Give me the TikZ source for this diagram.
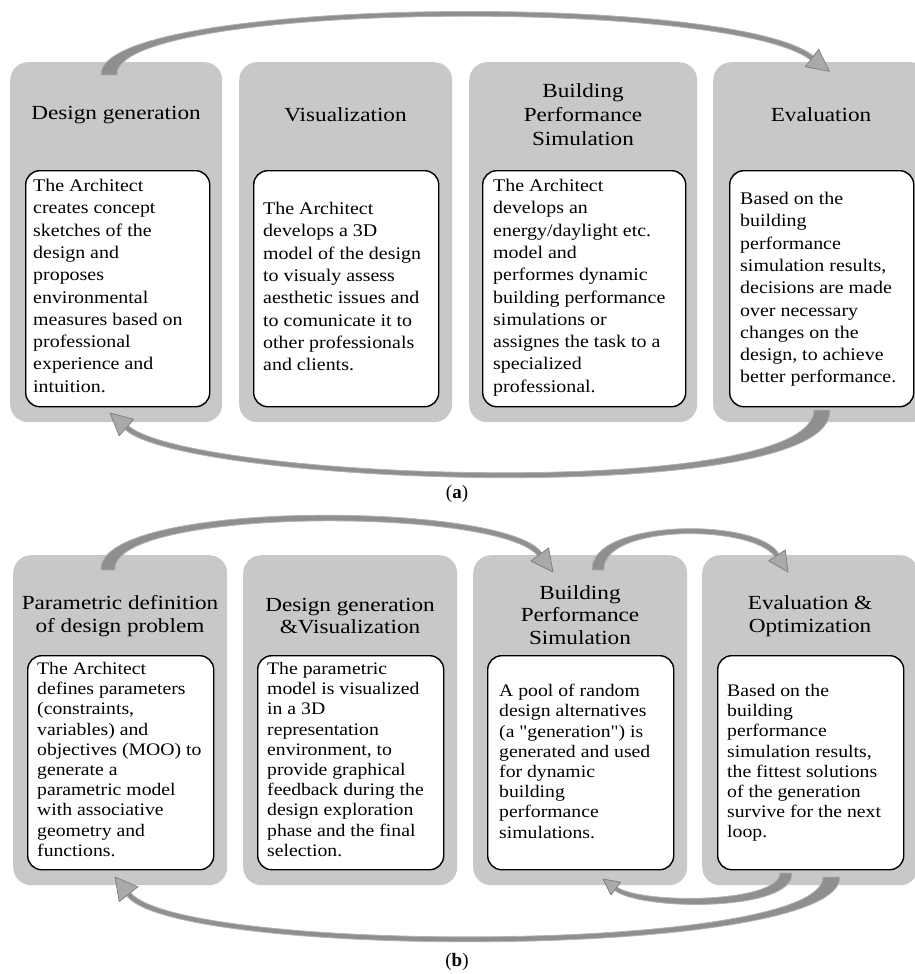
\documentclass[tikz,border=0pt]{standalone}
\usepackage{fontspec}
\setmainfont{Liberation Serif}
\newfontfamily\wfont{Liberation Serif}[FakeStretch=1.16]
\newfontfamily\bfont{Liberation Serif}[FakeStretch=1.12]
\definecolor{boxgray}{HTML}{C8C8C8}
\definecolor{arrowgray}{HTML}{8F8F8F}
\definecolor{arrowedge}{HTML}{B2B2B2}
\definecolor{headgray}{HTML}{A9A9A9}
\definecolor{headedge}{HTML}{7C7C7C}
\tikzset{
  graybox/.style={fill=boxgray, rounded corners=18pt, anchor=north west, inner sep=0pt},
  whitebox/.style={draw=black, line width=1.4pt, fill=white, rounded corners=14pt, anchor=north west, inner sep=0pt},
  ttl/.style={font=\wfont\fontsize{20}{24}\selectfont, align=center, inner sep=0pt},
  ttlb/.style={font=\wfont\fontsize{20}{22.5}\selectfont, align=center, inner sep=0pt},
  bodya/.style={font=\bfont\fontsize{17.8}{22.3}\selectfont, align=left, anchor=north west, inner sep=0pt},
  bodyb/.style={font=\bfont\fontsize{17.6}{20.2}\selectfont, align=left, anchor=north west, inner sep=0pt},
  blockarrow/.style={fill=arrowgray, draw=arrowedge, line width=0.8pt, line join=round},
  arrowhead/.style={fill=headgray, draw=headedge, line width=0.7pt, line join=round},
  lbl/.style={font=\fontsize{19}{21}\selectfont, inner sep=0pt}
}
\begin{document}
\begin{tikzpicture}[x=1pt,y=-1pt]
\useasboundingbox (0,0) rectangle (915,974);
% ---------- (a) gray boxes
\node[graybox, minimum width=212pt, minimum height=360pt] (ga1) at (10,62) {};
\node[graybox, minimum width=213pt, minimum height=360pt] (ga2) at (239,62) {};
\node[graybox, minimum width=228pt, minimum height=360pt] (ga3) at (469,62) {};
\node[graybox, minimum width=216pt, minimum height=360pt] (ga4) at (713,62) {};
% ---------- (a) arrows
\filldraw[blockarrow] (101,75) .. controls (97,-3) and (732,-9) .. (813.5,56) -- (810.5,60) .. controls (728,-3) and (113,2) .. (117,75) -- cycle;
\filldraw[arrowhead] (818.7,49.3) -- (829.4,71.4) -- (805.3,66.7) -- cycle;
\filldraw[blockarrow] (830,410) .. controls (834,509) and (184,485) .. (124.9,429.4) -- (128.2,425.6) .. controls (190,480) and (812,502) .. (814,410) -- cycle;
\filldraw[arrowhead] (119.2,435.8) -- (110,413) -- (133.8,419.3) -- cycle;
% ---------- (a) titles
\node[ttl] (ta1) at (116,115) {Design generation};
\node[ttl] (ta2) at (345.5,115) {Visualization};
\node[ttl] (ta3) at (583,115) {Building\\Performance\\Simulation};
\node[ttl] (ta4) at (821,115) {Evaluation};
% ---------- (a) white boxes
\node[whitebox, minimum width=184pt, minimum height=236pt] (wa1) at (25,170) {};
\node[whitebox, minimum width=185pt, minimum height=236pt] (wa2) at (253,170) {};
\node[whitebox, minimum width=203pt, minimum height=236pt] (wa3) at (482,170) {};
\node[whitebox, minimum width=184pt, minimum height=236pt] (wa4) at (729,170) {};
\node[bodya] (xa1) at (33,179) {The Architect\\creates concept\\sketches of the\\design and\\proposes\\environmental\\measures based on\\professional\\experience and\\intuition.};
\node[bodya] (xa2) at (263,202) {The Architect\\develops a 3D\\model of the design\\to visualy assess\\aesthetic issues and\\to comunicate it to\\other professionals\\and clients.};
\node[bodya] (xa3) at (493,179) {The Architect\\develops an\\energy/daylight etc.\\model and\\performes dynamic\\building performance\\simulations or\\assignes the task to a\\specialized\\professional.};
\node[bodya] (xa4) at (740,192) {Based on the\\building\\performance\\simulation results,\\decisions are made\\over necessary\\changes on the\\design, to achieve\\better performance.};
\node[lbl] (la) at (457,494) {(\textbf{a})};
% ---------- (b) gray boxes
\node[graybox, minimum width=214pt, minimum height=330pt] (gb1) at (13,555) {};
\node[graybox, minimum width=214pt, minimum height=330pt] (gb2) at (243,555) {};
\node[graybox, minimum width=214pt, minimum height=330pt] (gb3) at (473,555) {};
\node[graybox, minimum width=216pt, minimum height=330pt] (gb4) at (702,555) {};
% ---------- (b) arrows
\filldraw[blockarrow] (101,570) .. controls (97,499) and (507,501) .. (541.8,552.9) -- (537.8,555.9) .. controls (500,507) and (111,507) .. (115,570) -- cycle;
\filldraw[arrowhead] (548.6,547.8) -- (553,572) -- (531,561) -- cycle;
\filldraw[blockarrow] (592,570) .. controls (590,519) and (758,517) .. (779,554) -- (775,556.8) .. controls (752,524) and (602,524) .. (604,570) -- cycle;
\filldraw[arrowhead] (785.3,549.9) -- (788,572) -- (768.7,560.9) -- cycle;
\filldraw[blockarrow] (792,873) .. controls (794,912) and (640,911) .. (614.6,890.2) -- (617,887) .. controls (640,904) and (778,904) .. (780,873) -- cycle;
\filldraw[arrowhead] (611,895) -- (603,879) -- (620.6,882.2) -- cycle;
\filldraw[blockarrow] (840,877) .. controls (840,960) and (175,960) .. (126.7,895.8) -- (130.6,892.6) .. controls (181,954) and (822,954) .. (823,877) -- cycle;
\filldraw[arrowhead] (119.2,901.6) -- (115,877) -- (138,886.8) -- cycle;
% ---------- (b) titles
\node[ttlb] (tb1) at (120,616) {Parametric definition\\of design problem};
\node[ttlb] (tb2) at (350,616) {Design generation\\\&Visualization};
\node[ttlb] (tb3) at (580,615) {Building\\Performance\\Simulation};
\node[ttlb] (tb4) at (810,616) {Evaluation \&\\Optimization};
% ---------- (b) white boxes
\node[whitebox, minimum width=186pt, minimum height=214pt] (wb1) at (27,655) {};
\node[whitebox, minimum width=186pt, minimum height=214pt] (wb2) at (257,655) {};
\node[whitebox, minimum width=186pt, minimum height=214pt] (wb3) at (487,655) {};
\node[whitebox, minimum width=186pt, minimum height=214pt] (wb4) at (717,655) {};
\node[bodyb] (xb1) at (37,662) {The Architect\\defines parameters\\(constraints,\\variables) and\\objectives (MOO) to\\generate a\\parametric model\\with associative\\geometry and\\functions.};
\node[bodyb] (xb2) at (267,662) {The parametric\\model is visualized\\in a 3D\\representation\\environment, to\\provide graphical\\feedback during the\\design exploration\\phase and the final\\selection.};
\node[bodyb] (xb3) at (499,684) {A pool of random\\design alternatives\\(a "generation") is\\generated and used\\for dynamic\\building\\performance\\simulations.};
\node[bodyb] (xb4) at (727,684) {Based on the\\building\\performance\\simulation results,\\the fittest solutions\\of the generation\\survive for the next\\loop.};
\node[lbl] (lb) at (457,962) {(\textbf{b})};
\end{tikzpicture}
\end{document}
